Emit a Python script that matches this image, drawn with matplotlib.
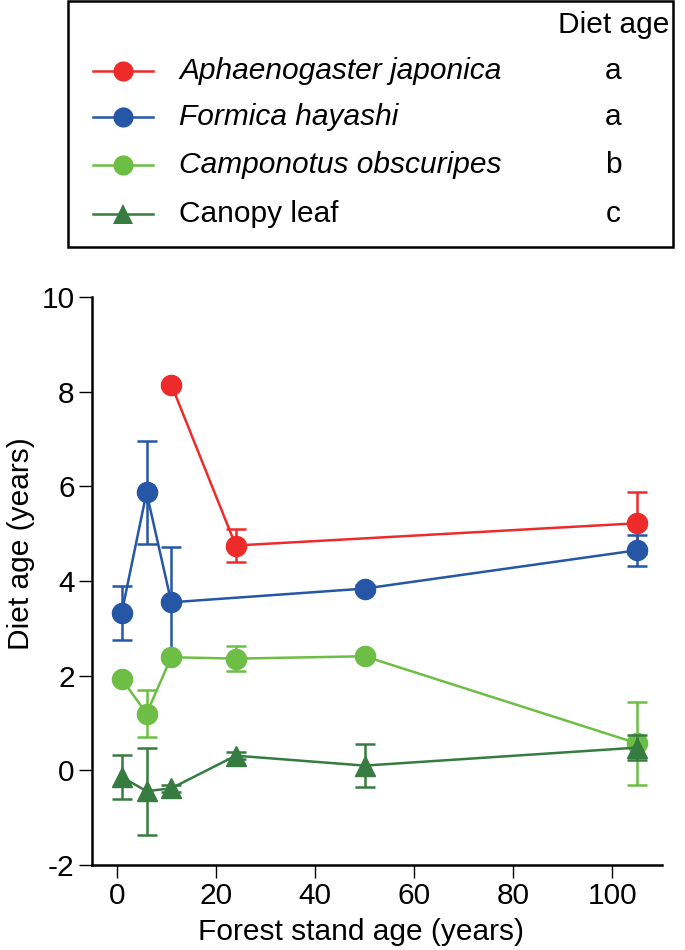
import matplotlib
matplotlib.use("Agg")
import matplotlib.pyplot as plt
from matplotlib.patches import Rectangle
from matplotlib.lines import Line2D

plt.rcParams['font.family'] = ['Liberation Sans', 'DejaVu Sans']

# ---- data ----
species = ["Aphaenogaster japonica", "Formica hayashi", "Camponotus obscuripes", "Canopy leaf"]
letters = ["a", "a", "b", "c"]
italic = [True, True, True, False]

aph_x = [11, 24, 105]
aph_y = [8.15, 4.75, 5.22]
aph_se = [0.0, 0.35, 0.65]

for_x = [1, 6, 11, 50, 105]
for_y = [3.33, 5.87, 3.55, 3.84, 4.65]
for_se = [0.57, 1.08, 1.17, 0.08, 0.33]

cam_x = [1, 6, 11, 24, 50, 105]
cam_y = [1.93, 1.20, 2.39, 2.36, 2.41, 0.57]
cam_se = [0.0, 0.50, 0.0, 0.26, 0.0, 0.88]

can_x = [1, 6, 11, 24, 50, 105]
can_y = [-0.14, -0.44, -0.38, 0.31, 0.10, 0.48]
can_se = [0.47, 0.92, 0.08, 0.08, 0.45, 0.26]

xticks = [0, 20, 40, 60, 80, 100]
yticks = [-2, 0, 2, 4, 6, 8, 10]

colors = ['#EE2B2B', '#2656A6', '#6CBE45', '#367C40']
markers = ['o', 'o', 'o', '^']
msizes = [14.5, 14.5, 14.5, 14]

FS = 21.5
LW = 1.8

W, H = 685, 950
fig = plt.figure(figsize=(W / 100, H / 100), dpi=100)

# main axes (pixel layout)
L, R, T, B = 92, 662, 297, 865
ax = fig.add_axes([L / W, 1 - B / H, (R - L) / W, (B - T) / H])

series = [(aph_x, aph_y, aph_se), (for_x, for_y, for_se),
          (cam_x, cam_y, cam_se), (can_x, can_y, can_se)]
for i, (x, y, se) in enumerate(series):
    ax.errorbar(x, y, yerr=se, color=colors[i], marker=markers[i], ms=msizes[i],
                mec=colors[i], mfc=colors[i],
                lw=LW, elinewidth=LW, capsize=7.5, capthick=LW,
                zorder=2 + i, clip_on=False)

ax.set_xlim(-5, 110)
ax.set_ylim(-2, 10)
ax.set_xticks(xticks)
ax.set_yticks(yticks)
ax.set_yticklabels([str(v) for v in yticks])
for s in ['top', 'right']:
    ax.spines[s].set_visible(False)
for s in ['left', 'bottom']:
    ax.spines[s].set_linewidth(1.8)
ax.tick_params(direction='out', length=9.5, width=1.0, labelsize=FS, pad=3)
ax.set_xlabel("Forest stand age (years)", fontsize=FS)
ax.set_ylabel("Diet age (years)", fontsize=FS)
ax.xaxis.set_label_coords(0.472, -0.094)
ax.yaxis.set_label_coords(-0.100, 0.565)

# legend box (overlay in pixel coords)
lax = fig.add_axes([0, 0, 1, 1])
lax.set_xlim(0, W)
lax.set_ylim(H, 0)
lax.axis('off')
lax.add_patch(Rectangle((68, 1), 605, 246, fill=False, lw=1.8, ec='black'))
lax.text(614, 25, "Diet age", fontsize=FS, ha='center', va='center')
rows = [71, 117, 165, 214]
for i, name in enumerate(species):
    yy = rows[i]
    lax.add_line(Line2D([93, 153], [yy, yy], color=colors[i], lw=LW))
    lax.add_line(Line2D([123], [yy], color=colors[i], marker=markers[i],
                        ms=msizes[i], markeredgewidth=0))
    lax.text(179, yy, name, fontsize=FS, ha='left', va='center',
             style='italic' if italic[i] else 'normal')
    lax.text(613, yy, letters[i], fontsize=FS, ha='center', va='center')

fig.savefig("out.png", dpi=100)
